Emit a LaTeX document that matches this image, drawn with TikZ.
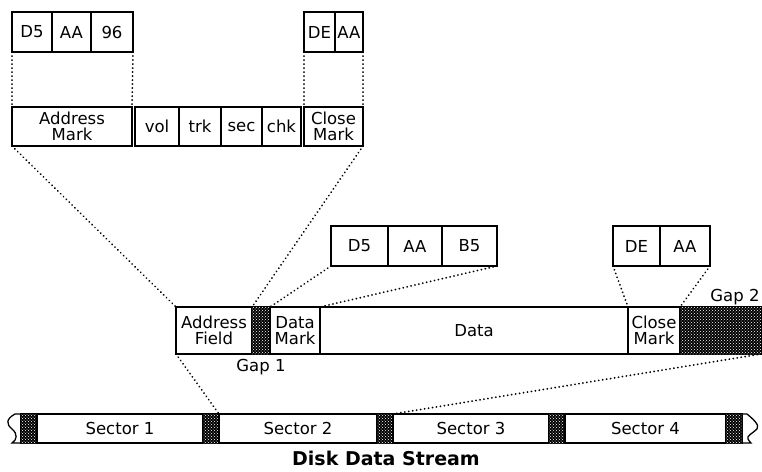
\documentclass[tikz,border=0pt]{standalone}
\usepackage{fontspec}
\setmainfont{DejaVu Sans}
\usetikzlibrary{patterns}
\newcommand{\lblfont}{\fontsize{16.5}{16.5}\selectfont}
\newcommand{\ttlfont}{\fontsize{19}{22}\selectfont\bfseries}
\begin{document}
\begin{tikzpicture}[x=1pt,y=-1pt,
  box/.style={draw, line width=1.3pt, inner sep=0pt, outer sep=0pt, anchor=north west, align=center, font=\lblfont},
  gapbox/.style={box, fill=black, postaction={pattern=crosshatch dots, pattern color=white}},
  dotline/.style={line width=2pt, line cap=round, dash pattern=on 0.01pt off 4pt},
  barline/.style={line width=1.3pt},
  lbl/.style={font=\lblfont, inner sep=0pt}
]
\useasboundingbox (0,0) rectangle (762,471);

% top hex boxes
\node[box, minimum width=40, minimum height=40] (t1) at (12,12) {D5};
\node[box, minimum width=39, minimum height=40] (t2) at (52,12) {AA};
\node[box, minimum width=42, minimum height=40] (t3) at (91,12) {96};
\node[box, minimum width=31, minimum height=40] (t4) at (304,12) {DE};
\node[box, minimum width=28, minimum height=40] (t5) at (335,12) {AA};

% address field row
\node[box, minimum width=120, minimum height=39] (am) at (12,107) {Address\\Mark};
\node[box, minimum width=44, minimum height=39] (vol) at (135,107) {vol};
\node[box, minimum width=42, minimum height=39] (trk) at (179,107) {trk};
\node[box, minimum width=41, minimum height=39] (sec) at (221,107) {sec};
\node[box, minimum width=39, minimum height=39] (chk) at (262,107) {chk};
\node[box, minimum width=59, minimum height=39] (cm) at (304,107) {Close\\Mark};

% data mark hex boxes
\node[box, minimum width=57, minimum height=40] (m1) at (331,226) {D5};
\node[box, minimum width=54, minimum height=40] (m2) at (388,226) {AA};
\node[box, minimum width=55, minimum height=40] (m3) at (442,226) {B5};
\node[box, minimum width=47, minimum height=40] (m4) at (613,226) {DE};
\node[box, minimum width=50, minimum height=40] (m5) at (660,226) {AA};

% sector row
\node[box, minimum width=76, minimum height=47] (af) at (176,307) {Address\\Field};
\node[gapbox, minimum width=18, minimum height=47] (gp1) at (252,307) {};
\node[box, minimum width=50, minimum height=47] (dm) at (270,307) {Data\\Mark};
\node[box, minimum width=308, minimum height=47] (dt) at (320,307) {Data};
\node[box, minimum width=52, minimum height=47] (cm2) at (628,307) {Close\\Mark};
\node[gapbox, minimum width=81, minimum height=47] (gp2) at (680,307) {};
\node[lbl] (g1l) at (261,367) {Gap 1};
\node[lbl] (g2l) at (735,297) {Gap 2};

% disk data stream
\node[gapbox, minimum width=16, minimum height=29] (b1) at (21,414) {};
\node[box, minimum width=166, minimum height=29] (s1) at (37,414) {Sector 1};
\node[gapbox, minimum width=16, minimum height=29] (b2) at (203,414) {};
\node[box, minimum width=158, minimum height=29] (s2) at (219,414) {Sector 2};
\node[gapbox, minimum width=16, minimum height=29] (b3) at (377,414) {};
\node[box, minimum width=156, minimum height=29] (s3) at (393,414) {Sector 3};
\node[gapbox, minimum width=16, minimum height=29] (b4) at (549,414) {};
\node[box, minimum width=161, minimum height=29] (s4) at (565,414) {Sector 4};
\node[gapbox, minimum width=16, minimum height=29] (b5) at (726,414) {};

\coordinate (lt) at (15,414);
\coordinate (lb) at (12,443);
\coordinate (rt) at (747,414);
\coordinate (rb) at (751,443);
\draw[barline] (b1.north west) -- (lt)
  .. controls (6,419) and (6,424) .. (12,429)
  .. controls (18,434) and (17,440) .. (lb) -- (b1.south west);
\draw[barline] (b5.north east) -- (rt)
  .. controls (753,419) and (760,425) .. (757,429)
  .. controls (753,433) and (746,436) .. (748,439)
  .. controls (749,441) and (750,442) .. (rb) -- (b5.south east);

\node[font=\ttlfont, inner sep=0pt] (title) at (386,458) {Disk Data Stream};

% dotted connectors
\draw[dotline] (t1.south west) -- (am.north west);
\draw[dotline] (t3.south east) -- (am.north east);
\draw[dotline] (t4.south west) -- (cm.north west);
\draw[dotline] (t5.south east) -- (cm.north east);
\draw[dotline] (am.south west) -- (af.north west);
\draw[dotline] (cm.south east) -- (gp1.north west);
\draw[dotline] (m1.south west) -- (dm.north west);
\draw[dotline] (m3.south east) -- (dt.north west);
\draw[dotline] (m4.south west) -- (cm2.north west);
\draw[dotline] (m5.south east) -- (cm2.north east);
\draw[dotline] (af.south west) -- (s2.north west);
\draw[dotline] (gp2.south east) -- (s3.north west);
\end{tikzpicture}
\end{document}
